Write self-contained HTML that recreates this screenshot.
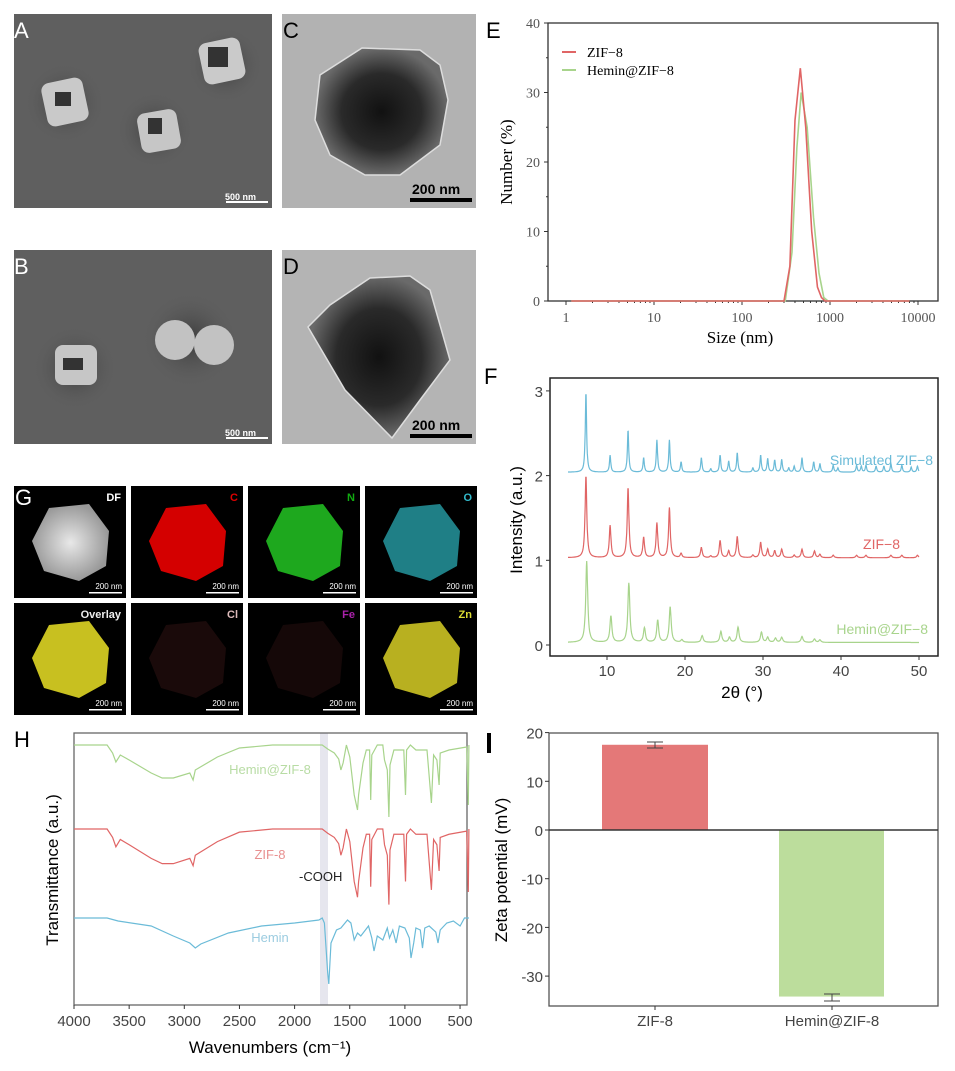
<!DOCTYPE html>
<html><head><meta charset="utf-8"><style>
body{margin:0;background:#fff;}
svg{display:block;font-family:"Liberation Sans",sans-serif;}
.serif{font-family:"Liberation Serif",serif;}
</style></head><body>
<svg id="s" width="955" height="1071" viewBox="0 0 955 1071" xmlns="http://www.w3.org/2000/svg">
<defs>
<radialGradient id="halo"><stop offset="0" stop-color="#3a3a3a"/><stop offset="1" stop-color="#5e5e5e" stop-opacity="0"/></radialGradient>
<radialGradient id="tem1"><stop offset="0" stop-color="#111"/><stop offset="0.6" stop-color="#2a2a2a"/><stop offset="1" stop-color="#6a6a6a"/></radialGradient>
<radialGradient id="df"><stop offset="0" stop-color="#e8e8e8"/><stop offset="1" stop-color="#999"/></radialGradient>
</defs>
<!-- A -->
<rect x="14" y="14" width="258" height="194" fill="#5f5f5f"/>
<circle cx="65" cy="103" r="40" fill="url(#halo)"/><circle cx="155" cy="130" r="38" fill="url(#halo)"/><circle cx="225" cy="65" r="38" fill="url(#halo)"/>
<rect x="44" y="80" width="42" height="44" rx="8" fill="#c9c9c9" transform="rotate(-12 65 102)"/><rect x="55" y="92" width="16" height="14" fill="#333"/>
<rect x="139" y="111" width="40" height="40" rx="8" fill="#c6c6c6" transform="rotate(-10 159 131)"/><rect x="148" y="118" width="14" height="16" fill="#333"/>
<rect x="201" y="40" width="42" height="42" rx="8" fill="#cacaca" transform="rotate(-12 222 61)"/><rect x="208" y="47" width="20" height="20" fill="#333"/>
<text x="14" y="38" font-size="22" fill="#fff">A</text>
<text x="225" y="200" font-size="9" font-weight="bold" fill="#fff">500 nm</text><rect x="226" y="201" width="42" height="2" fill="#fff"/>
<!-- B -->
<rect x="14" y="250" width="258" height="194" fill="#5f5f5f"/>
<circle cx="75" cy="368" r="42" fill="url(#halo)"/><circle cx="190" cy="340" r="48" fill="url(#halo)"/>
<rect x="55" y="345" width="42" height="40" rx="8" fill="#c6c6c6"/><rect x="63" y="358" width="20" height="12" fill="#333"/>
<circle cx="175" cy="340" r="20" fill="#c2c2c2"/><circle cx="214" cy="345" r="20" fill="#c2c2c2"/>
<text x="14" y="274" font-size="22" fill="#fff">B</text>
<text x="225" y="436" font-size="9" font-weight="bold" fill="#fff">500 nm</text><rect x="226" y="437" width="42" height="2" fill="#fff"/>
<!-- C -->
<rect x="282" y="14" width="194" height="194" fill="#b2b2b2"/>
<polygon points="362,48 420,50 440,65 448,100 440,145 400,175 365,175 330,155 315,120 320,75" fill="url(#tem1)" stroke="#ddd" stroke-width="1.5"/>
<text x="283" y="38" font-size="22" fill="#000">C</text>
<text x="412" y="194" font-size="14" font-weight="bold" fill="#000">200 nm</text><rect x="410" y="198" width="62" height="4" fill="#000"/>
<!-- D -->
<rect x="282" y="250" width="194" height="194" fill="#b4b4b4"/>
<polygon points="370,278 410,276 430,290 450,360 420,400 392,438 345,390 308,327 330,305" fill="url(#tem1)" stroke="#ddd" stroke-width="1.5"/>
<text x="283" y="274" font-size="22" fill="#000">D</text>
<text x="412" y="430" font-size="14" font-weight="bold" fill="#000">200 nm</text><rect x="410" y="434" width="62" height="4" fill="#000"/>
<g id="gt"></g>
<g id="E"></g>
<g id="F"></g>
<g id="H"></g>
<g id="I"></g>
</svg>
<script>
var NS="http://www.w3.org/2000/svg";
function el(p,t,a,txt){var e=document.createElementNS(NS,t);for(var k in a)e.setAttribute(k,a[k]);if(txt!==undefined)e.textContent=txt;p.appendChild(e);return e;}
var g=document.getElementById('gt');
var tx=[14,131,248,365],ty=[486,603],tw=112,th=112;
var tiles=[["DF","#fff","df"],["C","#d00","#d40000"],["N","#1a1","#1ea81e"],["O","#3bc","#1f7f86"],["Overlay","#eee","#c8c020"],["Cl","#dbb","#1a0a0a"],["Fe","#a2a","#150808"],["Zn","#dd3","#b8b020"]];
for(var i=0;i<8;i++){var x=tx[i%4],y=ty[Math.floor(i/4)];
 el(g,'rect',{x:x,y:y,width:tw,height:th,fill:'#000'});
 var f=tiles[i][2]=="df"?"url(#df)":tiles[i][2];
 el(g,'polygon',{points:[[x+35,y+22],[x+75,y+18],[x+95,y+45],[x+92,y+80],[x+65,y+95],[x+30,y+85],[x+18,y+55]].map(function(p){return p.join(',')}).join(' '),fill:f});
 el(g,'text',{x:x+tw-5,y:y+15,'font-size':11,'font-weight':'bold','text-anchor':'end',fill:tiles[i][1]},tiles[i][0]);
 el(g,'text',{x:x+tw-4,y:y+th-9,'font-size':8,'text-anchor':'end',fill:'#fff'},'200 nm');
 el(g,'rect',{x:x+tw-37,y:y+th-6,width:33,height:1.5,fill:'#fff'});
}
el(g,'text',{x:15,y:505,'font-size':22,fill:'#fff'},'G');
var E=document.getElementById('E');
el(E,'text',{x:486,y:38,'font-size':22},'E');
var ex0=548,ex1=938,ey0=23,ey1=301;
function X(v){return 566+88*Math.log10(v);} function Y(v){return 301-v*6.95;}
el(E,'rect',{x:ex0,y:ey0,width:ex1-ex0,height:ey1-ey0,fill:'none',stroke:'#333','stroke-width':1.3});
[0,10,20,30,40].forEach(function(v){el(E,'line',{x1:ex0-4,x2:ex0,y1:Y(v),y2:Y(v),stroke:'#333'});el(E,'text',{x:ex0-8,y:Y(v)+5,'font-size':14,'text-anchor':'end',fill:'#555','class':'serif'},v);});
[5,15,25,35].forEach(function(v){el(E,'line',{x1:ex0-2,x2:ex0,y1:Y(v),y2:Y(v),stroke:'#333'});});
for(var d=0;d<4;d++)for(var m=1;m<10;m++){var xx=X(m*Math.pow(10,d));el(E,'line',{x1:xx,x2:xx,y1:ey1,y2:ey1+(m==1?4:2),stroke:'#333'});}
el(E,'line',{x1:X(1e4),x2:X(1e4),y1:ey1,y2:ey1+4,stroke:'#333'});
[1,10,100,1000,10000].forEach(function(v){el(E,'text',{x:X(v),y:322,'font-size':14,'text-anchor':'middle',fill:'#555','class':'serif'},v);});
el(E,'text',{x:740,y:343,'font-size':17,'text-anchor':'middle','class':'serif'},'Size (nm)');
el(E,'text',{x:0,y:0,'font-size':17,'text-anchor':'middle','class':'serif',transform:'translate(512,162) rotate(-90)'},'Number (%)');
function dls(pts,c){var s='M'+X(1.15)+','+Y(0)+' L'+X(pts[0][0])+','+Y(0);pts.forEach(function(p){s+=' L'+X(p[0])+','+Y(p[1]);});s+=' L'+X(8000)+','+Y(0);el(E,'path',{d:s,fill:'none',stroke:c,'stroke-width':1.6});}
dls([[310,0],[370,7],[420,22],[470,30],[550,25],[650,12],[750,4],[850,0.5],[950,0]],'#a8d48c');
dls([[300,0],[350,5],[400,26],[460,33.5],[530,25],[620,10],[720,2],[800,0.5],[880,0]],'#e06565');
el(E,'line',{x1:562,x2:576,y1:52,y2:52,stroke:'#e06565','stroke-width':2});
el(E,'line',{x1:562,x2:576,y1:70,y2:70,stroke:'#a8d48c','stroke-width':2});
el(E,'text',{x:587,y:57,'font-size':14,'class':'serif'},'ZIF−8');
el(E,'text',{x:587,y:75,'font-size':14,'class':'serif'},'Hemin@ZIF−8');
var F=document.getElementById('F');
el(F,'text',{x:484,y:384,'font-size':22},'F');
function FX(v){return 607+(v-10)*7.8;} function FY(v){return 645-v*84.7;}
el(F,'rect',{x:550,y:378,width:388,height:278,fill:'none',stroke:'#222','stroke-width':1.5});
[0,1,2,3].forEach(function(v){el(F,'line',{x1:546,x2:550,y1:FY(v),y2:FY(v),stroke:'#333'});el(F,'text',{x:543,y:FY(v)+6,'font-size':15,'text-anchor':'end',fill:'#444'},v);});
[10,20,30,40,50].forEach(function(v){el(F,'line',{x1:FX(v),x2:FX(v),y1:656,y2:660,stroke:'#333'});el(F,'text',{x:FX(v),y:676,'font-size':15,'text-anchor':'middle',fill:'#444'},v);});
el(F,'text',{x:742,y:698,'font-size':17,'text-anchor':'middle'},'2θ (°)');
el(F,'text',{x:0,y:0,'font-size':17,'text-anchor':'middle',transform:'translate(522,520) rotate(-90)'},'Intensity (a.u.)');
function xrd(base,pk,w,c){var s='';for(var t=5;t<=50;t+=0.04){var v=base;pk.forEach(function(p){var d=(t-p[0])/w;v+=p[1]/(1+d*d);});s+=(s?' L':'M')+FX(t).toFixed(1)+','+FY(v).toFixed(1);}el(F,'path',{d:s,fill:'none',stroke:c,'stroke-width':1.2});}
xrd(2.04,[[7.3,0.95],[10.4,0.2],[12.7,0.5],[14.7,0.17],[16.4,0.38],[18.0,0.38],[19.5,0.12],[22.1,0.17],[23.3,0.04],[24.5,0.2],[25.6,0.13],[26.7,0.23],[28.7,0.05],[29.7,0.2],[30.6,0.16],[31.5,0.14],[32.4,0.15],[33.3,0.05],[34.0,0.07],[35.0,0.17],[36.5,0.12],[37.3,0.1],[39,0.08],[39.6,0.05],[42,0.08],[42.6,0.07],[43.2,0.08],[44.5,0.07],[45.5,0.07],[46.4,0.1],[47.8,0.08],[49,0.06],[49.8,0.07]],0.1,'#6bbbd8');
xrd(1.03,[[7.3,0.97],[10.4,0.38],[12.7,0.83],[14.7,0.24],[16.4,0.41],[18,0.59],[19.5,0.05],[22.1,0.12],[23.3,0.02],[24.5,0.2],[25.6,0.08],[26.7,0.25],[28.7,0.03],[29.7,0.18],[30.6,0.1],[31.5,0.08],[32.4,0.1],[34,0.03],[35,0.1],[36.6,0.08],[37.3,0.04],[39,0.03],[42,0.03],[43.2,0.03],[46.4,0.03],[47.8,0.03],[49.8,0.03]],0.13,'#e06565');
xrd(0.03,[[7.4,0.96],[10.5,0.31],[12.8,0.7],[14.8,0.17],[16.5,0.26],[18.1,0.42],[19.6,0.03],[22.2,0.08],[24.6,0.13],[25.7,0.06],[26.8,0.18],[29.8,0.12],[30.6,0.06],[31.6,0.05],[32.4,0.06],[35,0.07],[36.6,0.04],[37.3,0.03]],0.15,'#a8d48c');
el(F,'text',{x:933,y:465,'font-size':14,'text-anchor':'end',fill:'#6bbbd8'},'Simulated ZIF−8');
el(F,'text',{x:900,y:549,'font-size':14,'text-anchor':'end',fill:'#e06565'},'ZIF−8');
el(F,'text',{x:928,y:634,'font-size':14,'text-anchor':'end',fill:'#a8d48c'},'Hemin@ZIF−8');
var H=document.getElementById('H');
el(H,'text',{x:14,y:747,'font-size':22},'H');
function HX(v){return 74+(4000-v)*0.1103;}
el(H,'rect',{x:320,y:733,width:8,height:272,fill:'#e6e6ee'});
el(H,'rect',{x:74,y:733,width:393,height:272,fill:'none',stroke:'#666','stroke-width':1.3});
[4000,3500,3000,2500,2000,1500,1000,500].forEach(function(v){el(H,'line',{x1:HX(v),x2:HX(v),y1:1005,y2:1009,stroke:'#333'});el(H,'text',{x:HX(v),y:1026,'font-size':15,'text-anchor':'middle',fill:'#444'},v);});
el(H,'text',{x:270,y:1053,'font-size':17,'text-anchor':'middle'},'Wavenumbers (cm⁻¹)');
el(H,'text',{x:0,y:0,'font-size':17,'text-anchor':'middle',transform:'translate(58,870) rotate(-90)'},'Transmittance (a.u.)');
function ir(base,pts,c){var s='';pts.forEach(function(p){s+=(s?' L':'M')+HX(p[0]).toFixed(1)+','+(base+p[1]);});el(H,'path',{d:s,fill:'none',stroke:c,'stroke-width':1.2});}
var zif=[[4000,0],[3700,0],[3650,8],[3620,17],[3580,10],[3500,15],[3300,28],[3200,33],[3100,33],[2950,28],[2920,35],[2900,25],[2700,12],[2500,3],[2200,0],[1750,0],[1700,4],[1640,8],[1600,14],[1580,25],[1560,18],[1530,0],[1500,12],[1460,50],[1430,65],[1420,50],[1380,18],[1350,5],[1320,5],[1310,55],[1300,10],[1250,0],[1200,0],[1185,15],[1160,25],[1145,72],[1135,20],[1100,5],[1010,5],[995,50],[985,5],[950,0],[900,5],[800,5],[760,58],[740,10],[710,15],[690,40],[680,8],[600,5],[440,2],[425,60],[420,0]];
ir(745,zif,'#a8d48c');
ir(829,zif.map(function(p){return [p[0],p[1]*1.05];}),'#e06565');
ir(918,[[4000,0],[3700,0],[3600,3],[3300,8],[3100,18],[2950,25],[2900,30],[2850,26],[2600,15],[2300,8],[2000,5],[1780,2],[1750,0],[1730,5],[1700,55],[1690,66],[1670,25],[1620,12],[1580,10],[1520,2],[1490,5],[1460,22],[1430,15],[1400,18],[1330,8],[1300,20],[1280,33],[1250,18],[1200,22],[1160,10],[1140,20],[1110,12],[1080,25],[1050,8],[1000,10],[960,20],[945,40],[920,25],[900,10],[860,12],[840,30],[820,10],[780,8],[720,14],[700,25],[680,12],[620,5],[560,3],[500,8],[460,0],[420,0]],'#6bbbd8');
el(H,'text',{x:270,y:774,'font-size':13,'text-anchor':'middle',fill:'#b8dca4'},'Hemin@ZIF-8');
el(H,'text',{x:270,y:859,'font-size':13,'text-anchor':'middle',fill:'#e89090'},'ZIF-8');
el(H,'text',{x:270,y:942,'font-size':13,'text-anchor':'middle',fill:'#9ccce0'},'Hemin');
el(H,'text',{x:299,y:881,'font-size':13,fill:'#222'},'-COOH');
var I=document.getElementById('I');
el(I,'rect',{x:487,y:733,width:4,height:20,fill:'#000'});
function IY(v){return 830-v*4.87;}
el(I,'rect',{x:602,y:IY(17.5),width:106,height:830-IY(17.5),fill:'#e47878'});
el(I,'rect',{x:779,y:830,width:105,height:IY(-34.2)-830,fill:'#bcdd9c'});
el(I,'rect',{x:549,y:733,width:389,height:273,fill:'none',stroke:'#555','stroke-width':1.3});
el(I,'line',{x1:549,x2:938,y1:830,y2:830,stroke:'#333','stroke-width':1.5});
[20,10,0,-10,-20,-30].forEach(function(v){el(I,'line',{x1:545,x2:549,y1:IY(v),y2:IY(v),stroke:'#333'});el(I,'text',{x:543,y:IY(v)+6,'font-size':15,'text-anchor':'end',fill:'#444'},v);});
el(I,'path',{d:'M647,742 h16 M655,742 v6 M647,748 h16 M824,994 h16 M832,994 v7 M824,1001 h16',stroke:'#444',fill:'none'});
el(I,'line',{x1:655,x2:655,y1:1006,y2:1010,stroke:'#333'});el(I,'line',{x1:832,x2:832,y1:1006,y2:1010,stroke:'#333'});
el(I,'text',{x:655,y:1026,'font-size':15,'text-anchor':'middle',fill:'#444'},'ZIF-8');
el(I,'text',{x:832,y:1026,'font-size':15,'text-anchor':'middle',fill:'#444'},'Hemin@ZIF-8');
el(I,'text',{x:0,y:0,'font-size':17,'text-anchor':'middle',transform:'translate(507,870) rotate(-90)'},'Zeta potential (mV)');
</script>
</body></html>
